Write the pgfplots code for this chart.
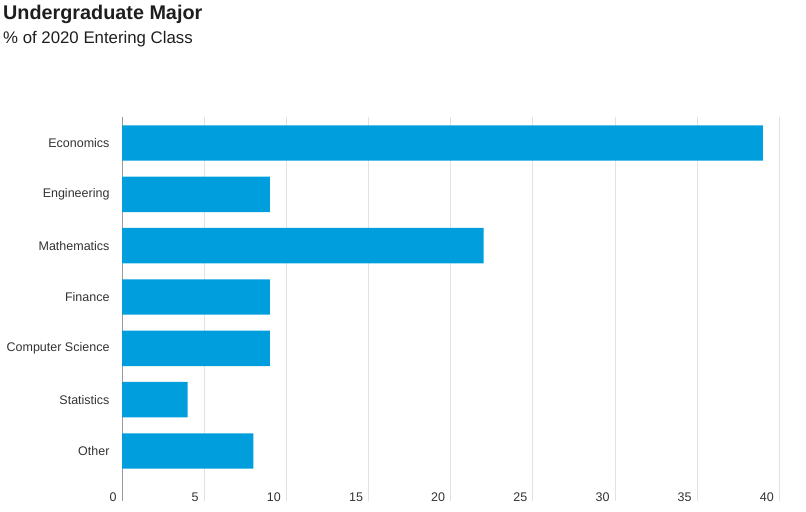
\documentclass[border=0pt]{standalone}
\usepackage{fontspec}
\setmainfont{Liberation Sans}
\usepackage{pgfplots}
\pgfplotsset{compat=1.18}
\definecolor{barblue}{HTML}{009EDC}
\definecolor{txt}{HTML}{333333}
\definecolor{ttl}{HTML}{1E1E1E}
\definecolor{gridc}{HTML}{E2E2E2}
\definecolor{axc}{HTML}{9A9A9A}
\begin{document}
\begin{tikzpicture}
\path[use as bounding box] (0,0) rectangle (806bp,512bp);
\node[anchor=base west, inner sep=0pt, text=ttl, font=\fontsize{19.8bp}{22bp}\selectfont\bfseries] at (3bp,492bp) {Undergraduate Major};
\node[anchor=base west, inner sep=0pt, text=ttl, font=\fontsize{16.8bp}{19bp}\selectfont] at (3bp,468.5bp) {\% of 2020 Entering Class};
\begin{axis}[
  at={(122bp,11bp)}, anchor=south west,
  scale only axis,
  width=657.3bp, height=384bp,
  xmin=0, xmax=40,
  ymin=-0.975, ymax=6.507,
  xbar, bar width=0.69,
  axis line style={draw=none},
  xtick={5,10,...,40},
  extra x ticks={0},
  extra x tick style={grid style={draw=axc, line width=0.8pt}},
  xmajorgrids,
  grid style={draw=gridc, line width=0.7pt},
  major tick length=0pt,
  ytick={0,...,6},
  yticklabels={Other,Statistics,Computer Science,Finance,Mathematics,Engineering,Economics},
  yticklabel style={font=\fontsize{12.5bp}{14bp}\selectfont, text=txt, xshift=-9bp},
  xticklabel style={font=\fontsize{12.5bp}{14bp}\selectfont, text=txt, anchor=base east, xshift=-2bp, yshift=-1bp},
  /pgf/number format/assume math mode=true,
  clip=false,
]
\addplot[fill=barblue, draw=none] coordinates {
  (8,0) (4,1) (9,2) (9,3) (22,4) (9,5) (39,6)
};
\end{axis}
\end{tikzpicture}
\end{document}
